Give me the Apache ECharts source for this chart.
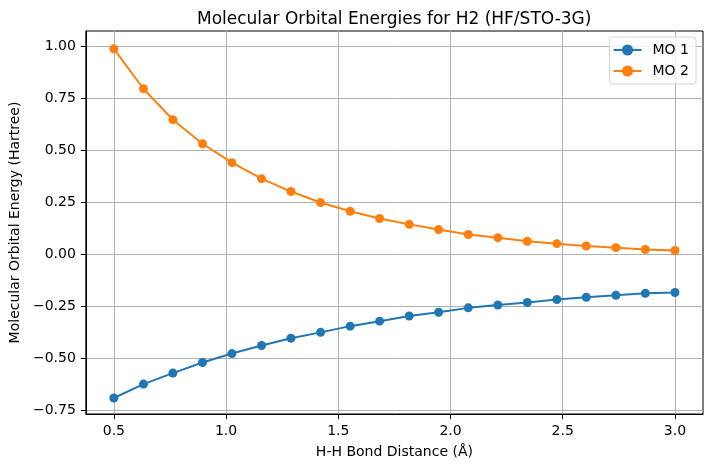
<!DOCTYPE html>
<html>
<head>
<meta charset="utf-8">
<script src="https://cdn.jsdelivr.net/npm/echarts@6/dist/echarts.min.js"></script>
<style>
  html, body { margin: 0; padding: 0; background: #fff; }
  #chart { width: 712px; height: 471px; }
</style>
</head>
<body>
<div id="chart"></div>
<script>
// bond distances (Å)
const distances = [0.5, 0.632, 0.763, 0.895, 1.026, 1.158, 1.289, 1.421, 1.553, 1.684,
  1.816, 1.947, 2.079, 2.211, 2.342, 2.474, 2.605, 2.737, 2.868, 3.0];
// orbital energies (Hartree)
const mo1 = [-0.692, -0.625, -0.572, -0.521, -0.478, -0.439, -0.404, -0.376, -0.346, -0.322,
  -0.297, -0.279, -0.258, -0.244, -0.232, -0.218, -0.207, -0.197, -0.188, -0.184];
const mo2 = [0.989, 0.797, 0.648, 0.532, 0.441, 0.364, 0.302, 0.249, 0.207, 0.172,
  0.144, 0.119, 0.095, 0.080, 0.063, 0.051, 0.040, 0.032, 0.023, 0.018];
// tick labels
const xTicks = [0.5, 1.0, 1.5, 2.0, 2.5, 3.0];
const yTicks = [-0.75, -0.5, -0.25, 0, 0.25, 0.5, 0.75, 1.0];

const font = 'DejaVu Sans';
const pairs = (ys) => ys.map((y, i) => [distances[i], y]);

const chart = echarts.init(document.getElementById('chart'));

const axisCommon = {
  axisLine: { show: true, onZero: false, lineStyle: { color: '#000', width: 1 } },
  axisTick: { show: true, inside: false, length: 5, lineStyle: { color: '#000', width: 1 } },
  splitLine: { show: true, lineStyle: { color: '#b0b0b0', width: 1 } },
  nameLocation: 'middle',
  nameTextStyle: { fontFamily: font, fontSize: 14, color: '#000' }
};

chart.setOption({
  animation: false,
  title: {
    text: 'Molecular Orbital Energies for H2 (HF/STO-3G)',
    left: 192,
    top: 6,
    textStyle: { fontFamily: font, fontSize: 17, fontWeight: 'normal', color: '#000' }
  },
  legend: {
    orient: 'vertical',
    right: 16,
    top: 37,
    padding: [6, 7, 6, 3],
    itemGap: 7,
    itemWidth: 28,
    itemHeight: 14,
    backgroundColor: 'rgba(255,255,255,0.8)',
    borderColor: '#d6d6d6',
    borderWidth: 1,
    borderRadius: 3,
    textStyle: { fontFamily: font, fontSize: 14, color: '#000', padding: [0, 0, 0, 6] },
    data: ['MO 1', 'MO 2']
  },
  grid: {
    left: 84, right: 9, top: 31, bottom: 57, containLabel: false,
    show: true, borderColor: '#000', borderWidth: 1, backgroundColor: 'transparent'
  },
  xAxis: Object.assign({}, axisCommon, {
    type: 'value',
    min: 0.375,
    max: 3.125,
    name: 'H-H Bond Distance (Å)',
    nameGap: 31,
    axisTick: Object.assign({}, axisCommon.axisTick, { customValues: xTicks }),
    axisLabel: {
      customValues: xTicks,
      margin: 10,
      fontFamily: font, fontSize: 14, color: '#000',
      formatter: (v) => v.toFixed(1)
    }
  }),
  yAxis: Object.assign({}, axisCommon, {
    type: 'value',
    min: -0.769,
    max: 1.075,
    name: 'Molecular Orbital Energy (Hartree)',
    nameGap: 52,
    axisTick: Object.assign({}, axisCommon.axisTick, { customValues: yTicks }),
    axisLabel: {
      customValues: yTicks,
      margin: 10,
      fontFamily: font, fontSize: 14, color: '#000',
      formatter: (v) => v.toFixed(2).replace('-', '\u2212')
    }
  }),
  series: [
    {
      name: 'MO 1',
      type: 'line',
      data: pairs(mo1),
      symbol: 'circle',
      symbolSize: 9,
      color: '#1f77b4',
      lineStyle: { width: 2 },
      itemStyle: { color: '#1f77b4' }
    },
    {
      name: 'MO 2',
      type: 'line',
      data: pairs(mo2),
      symbol: 'circle',
      symbolSize: 9,
      color: '#ff7f0e',
      lineStyle: { width: 2 },
      itemStyle: { color: '#ff7f0e' }
    }
  ]
});
</script>
</body>
</html>
